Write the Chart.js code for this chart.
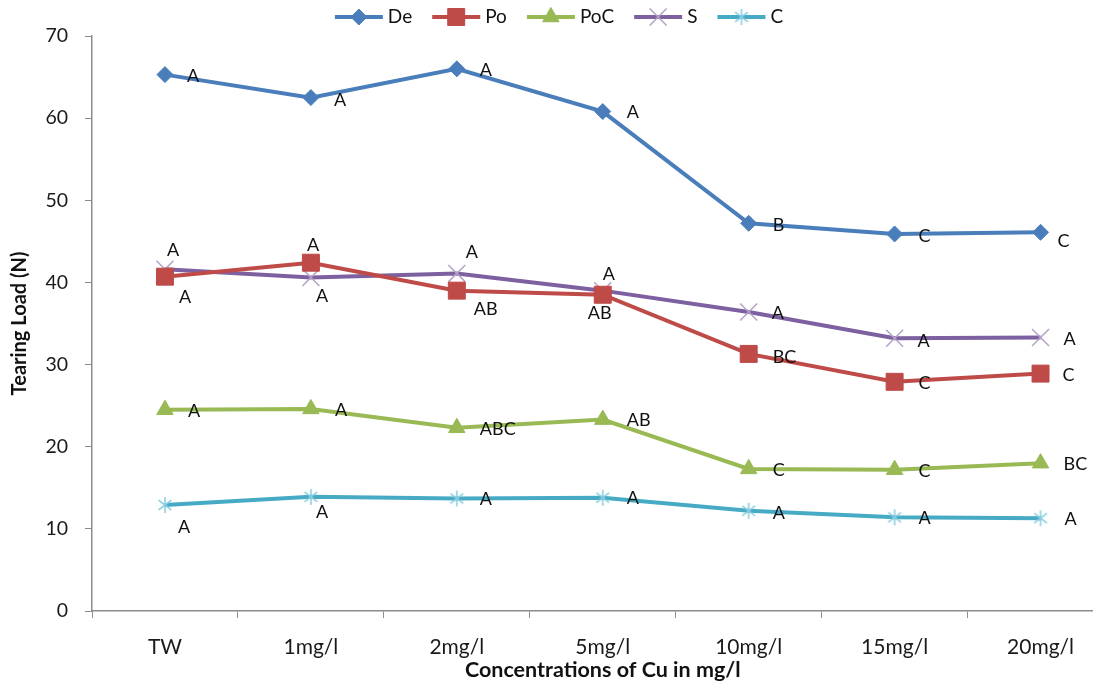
<!DOCTYPE html>
<html>
<head>
<meta charset="utf-8">
<script src="https://cdn.jsdelivr.net/npm/chart.js@4/dist/chart.umd.min.js"></script>
<style>
  html, body { margin: 0; padding: 0; background: #ffffff; overflow: hidden; }
  #wrap { width: 1093px; height: 690px; overflow: hidden; background: #ffffff; }
  #chart { display: block; }
</style>
</head>
<body>
<div id="wrap"><canvas id="chart" width="1127" height="690"></canvas></div>
<script>
// Tearing load (N) by Cu concentration
const categories = ['TW', '1mg/l', '2mg/l', '5mg/l', '10mg/l', '15mg/l', '20mg/l'];

const deValues  = [65.3, 62.5, 66.0, 60.8, 47.2, 45.9, 46.1];
const poValues  = [40.7, 42.4, 39.0, 38.5, 31.3, 27.9, 28.9];
const pocValues = [24.5, 24.6, 22.3, 23.3, 17.3, 17.2, 18.0];
const sValues   = [41.6, 40.6, 41.1, 39.0, 36.4, 33.2, 33.3];
const cValues   = [12.9, 13.9, 13.7, 13.8, 12.2, 11.4, 11.3];

// significance letters shown beside each point
const deLetters  = ['A', 'A', 'A', 'A', 'B', 'C', 'C'];
const poLetters  = ['A', 'A', 'AB', 'AB', 'BC', 'C', 'C'];
const pocLetters = ['A', 'A', 'ABC', 'AB', 'C', 'C', 'BC'];
const sLetters   = ['A', 'A', 'A', 'A', 'A', 'A', 'A'];
const cLetters   = ['A', 'A', 'A', 'A', 'A', 'A', 'A'];

const yTicks = { min: 0, max: 70, step: 10 };

// where each letter sits relative to its point: [dx to text start, dy to text middle]
const deLabelPos  = [[22, 2], [23, 3], [23, 1], [24, 1], [24, 2], [24, 2], [17, 9]];
const poLabelPos  = [[14, 21], [-4, -18], [17, 19], [-15, 18], [24, 3], [24, 1], [22, 2]];
const pocLabelPos = [[23, 1], [24, 1], [23, 1], [24, 1], [24, 1], [24, 1], [23, 1]];
const sLabelPos   = [[2, -19], [5, 19], [9, -21], [0, -16], [23, 1], [23, 3], [23, 2]];
const cLabelPos   = [[13, 22], [5, 15], [23, 1], [24, 1], [24, 2], [24, 1], [24, 1]];

const FONT = 'Lato, "Open Sans", "DejaVu Sans", sans-serif';

// asterisk marker: vertical stroke plus an X
function makeAsterisk(color, size) {
  const c = document.createElement('canvas');
  c.width = size; c.height = size;
  const g = c.getContext('2d');
  g.strokeStyle = color;
  g.lineWidth = 1.5;
  const m = size / 2, r = size / 2 - 1;
  const d = r * 0.8;
  g.beginPath();
  g.moveTo(m, m - r); g.lineTo(m, m + r);
  g.moveTo(m - d, m - d * 0.75); g.lineTo(m + d, m + d * 0.75);
  g.moveTo(m - d, m + d * 0.75); g.lineTo(m + d, m - d * 0.75);
  g.stroke();
  return c;
}
const asterisk = makeAsterisk('#86cde0', 18);

const datasets = [
  { label: 'De', data: deValues, letters: deLetters, letterPos: deLabelPos,
    borderColor: '#4a7ebb', backgroundColor: '#4a7ebb',
    pointStyle: 'rectRot', pointRadius: 8, pointBackgroundColor: '#4a7ebb', pointBorderColor: '#4a7ebb', pointBorderWidth: 1 },
  { label: 'Po', data: poValues, letters: poLetters, letterPos: poLabelPos,
    borderColor: '#be4b48', backgroundColor: '#be4b48',
    pointStyle: 'rect', pointRadius: 12, pointBackgroundColor: '#be4b48', pointBorderColor: '#be4b48', pointBorderWidth: 1 },
  { label: 'PoC', data: pocValues, letters: pocLetters, letterPos: pocLabelPos,
    borderColor: '#98b954', backgroundColor: '#98b954',
    pointStyle: 'triangle', pointRadius: 9.5, pointBackgroundColor: '#98b954', pointBorderColor: '#98b954', pointBorderWidth: 1 },
  { label: 'S', data: sValues, letters: sLetters, letterPos: sLabelPos,
    borderColor: '#7d60a0', backgroundColor: '#7d60a0',
    pointStyle: 'crossRot', pointRadius: 12, pointBackgroundColor: '#b3a2c7', pointBorderColor: '#b3a2c7', pointBorderWidth: 1.5 },
  { label: 'C', data: cValues, letters: cLetters, letterPos: cLabelPos,
    borderColor: '#46aac5', backgroundColor: '#46aac5',
    pointStyle: asterisk, pointRadius: 9, pointBackgroundColor: '#86cde0', pointBorderColor: '#86cde0', pointBorderWidth: 1.5 }
].map(d => Object.assign({ borderWidth: 4, tension: 0, fill: false, clip: false }, d));

// letters beside the points
const letterPlugin = {
  id: 'letters',
  afterDatasetsDraw(chart) {
    const ctx = chart.ctx;
    ctx.save();
    ctx.font = '18px ' + FONT;
    ctx.fillStyle = '#111111';
    ctx.textAlign = 'left';
    ctx.textBaseline = 'middle';
    chart.data.datasets.forEach((ds, di) => {
      const meta = chart.getDatasetMeta(di);
      meta.data.forEach((pt, i) => {
        const off = ds.letterPos[i];
        ctx.fillText(ds.letters[i], pt.x + off[0], pt.y + off[1]);
      });
    });
    ctx.restore();
  }
};

// legend row with line + marker samples
const legendPlugin = {
  id: 'lineLegend',
  afterDraw(chart) {
    const ctx = chart.ctx;
    const lineLen = 48, textGap = 5, itemGap = 20, y = 17, centerX = 559;
    ctx.save();
    ctx.font = '19px ' + FONT;
    const items = chart.data.datasets.map(ds => ({ ds, w: lineLen + textGap + ctx.measureText(ds.label).width }));
    const total = items.reduce((s, it) => s + it.w, 0) + itemGap * (items.length - 1);
    let x = centerX - total / 2;
    items.forEach(({ ds, w }) => {
      ctx.strokeStyle = ds.borderColor;
      ctx.lineWidth = ds.borderWidth;
      ctx.beginPath();
      ctx.moveTo(x, y); ctx.lineTo(x + lineLen, y);
      ctx.stroke();
      ctx.fillStyle = ds.pointBackgroundColor;
      ctx.strokeStyle = ds.pointBorderColor;
      ctx.lineWidth = ds.pointBorderWidth;
      Chart.helpers.drawPoint(ctx, { pointStyle: ds.pointStyle, radius: ds.pointRadius, rotation: 0, borderWidth: ds.pointBorderWidth }, x + lineLen / 2, y);
      ctx.fillStyle = '#111111';
      ctx.textAlign = 'left';
      ctx.textBaseline = 'middle';
      ctx.fillText(ds.label, x + lineLen + textGap, y);
      x += w + itemGap;
    });
    ctx.restore();
  }
};

new Chart(document.getElementById('chart'), {
  type: 'line',
  data: { labels: categories, datasets },
  options: {
    responsive: false,
    animation: false,
    events: [],
    layout: { padding: { top: 36, right: 6, bottom: 0, left: 0 } },
    plugins: { legend: { display: false }, tooltip: { enabled: false } },
    scales: {
      x: {
        offset: true,
        grid: { offset: true, drawOnChartArea: false, drawTicks: true, tickLength: 7, color: '#8c8c8c', lineWidth: 1 },
        border: { display: true, color: '#8c8c8c', width: 1.5 },
        ticks: { color: '#1a1a1a', font: { family: FONT, size: 21 }, padding: 17, maxRotation: 0, autoSkip: false },
        title: { display: true, text: 'Concentrations of Cu in mg/l', color: '#111111',
                 font: { family: FONT, size: 21.5, weight: 'bold' }, padding: { top: 7, bottom: 7 } },
        afterFit(scale) { scale.height = 79; }
      },
      y: {
        min: yTicks.min, max: yTicks.max,
        grid: { drawOnChartArea: false, drawTicks: true, tickLength: 7, color: '#8c8c8c', lineWidth: 1 },
        border: { display: true, color: '#8c8c8c', width: 1.5 },
        ticks: { stepSize: yTicks.step, color: '#1a1a1a', font: { family: FONT, size: 19.5 }, padding: 17 },
        title: { display: true, text: 'Tearing Load (N)', color: '#111111',
                 font: { family: FONT, size: 20, weight: 'bold' }, padding: { top: 8, bottom: 8 } },
        afterFit(scale) { scale.width = 92; }
      }
    }
  },
  plugins: [letterPlugin, legendPlugin]
});
</script>
</body>
</html>
